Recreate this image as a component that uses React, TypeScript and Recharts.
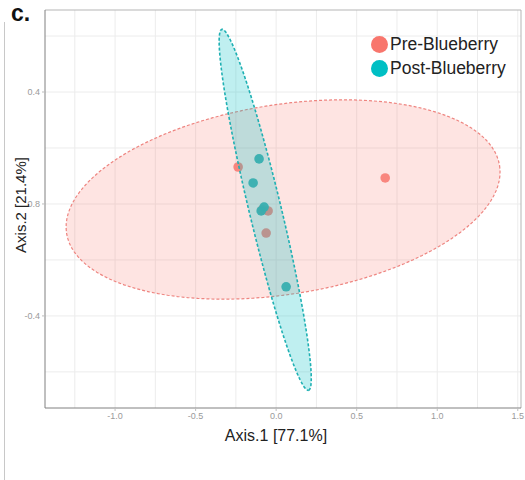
import React from 'react';
import {
  ScatterChart,
  Scatter,
  XAxis,
  YAxis,
  ReferenceLine,
} from 'recharts';

// PCoA scores
const preX = [-0.236, 0.677, -0.05, -0.062, -0.087];
const preY = [0.132, 0.093, -0.025, -0.104, -0.021];
const postX = [-0.106, -0.143, -0.075, -0.093, 0.062];
const postY = [0.161, 0.075, -0.011, -0.025, -0.296];

const seriesNames = ['Pre-Blueberry', 'Post-Blueberry'];
const seriesColors = ['#F8766D', '#00BFC4'];

// confidence ellipses: centre, semi-axis vectors (data units)
const preEllipse = [0.043, 0.016, 1.344, 0.121, 0.091, -0.335];
const postEllipse = [-0.068, -0.021, 0.269, -0.645, 0.097, 0.013];

const xTicks = [-1, -0.5, 0, 0.5, 1, 1.5];
const xGrid = [-1.25, -1, -0.75, -0.5, -0.25, 0, 0.25, 0.5, 0.75, 1, 1.25, 1.5];
const yTicks = [-0.4, 0, 0.4];
const yTickLabels = ['-0.4', '0.8', '0.4'];
const yGrid = [-0.6, -0.4, -0.2, 0, 0.2, 0.4, 0.6];

const xDomain = [-1.435, 1.52];
const yDomain = [-0.729, 0.693];

const toPoints = (xs: number[], ys: number[]) => xs.map((x, i) => ({ x, y: ys[i] }));

const ellipseOutline = (e: number[], n = 120) => {
  const [cx, cy, ux, uy, vx, vy] = e;
  const pts = [];
  for (let i = 0; i <= n; i++) {
    const t = (i / n) * Math.PI * 2;
    pts.push({ x: cx + Math.cos(t) * ux + Math.sin(t) * vx, y: cy + Math.cos(t) * uy + Math.sin(t) * vy });
  }
  return pts;
};

const font = '"Liberation Sans", Arial, sans-serif';

const dot = (color: string, opacity: number) => (props: any) => (
  <circle cx={props.cx} cy={props.cy} r={4.8} fill={color} fillOpacity={opacity} />
);

const noDot = () => <g />;

const LegendBox = () => (
  <div style={{ position: 'absolute', left: 371, top: 32, fontFamily: font, fontSize: 17.5, color: '#222' }}>
    {seriesNames.map((name, i) => (
      <div key={name} style={{ display: 'flex', alignItems: 'center', height: 24 }}>
        <span
          style={{
            width: 17,
            height: 17,
            borderRadius: '50%',
            background: seriesColors[i],
            display: 'inline-block',
            marginRight: 2,
          }}
        />
        {name}
      </div>
    ))}
  </div>
);

export default function App() {
  return (
    <div style={{ position: 'absolute', left: 0, top: 0, width: 525, height: 480, background: '#fff' }}>
      <div style={{ position: 'absolute', left: 4, top: 22, width: 1, height: 458, background: '#c8c8c8' }} />
      <div
        style={{
          position: 'absolute',
          left: 11,
          top: 0,
          fontFamily: font,
          fontWeight: 'bold',
          fontSize: 23,
          color: '#111',
        }}
      >
        c.
      </div>
      <ScatterChart width={525} height={480} margin={{ top: 10, right: 4, bottom: 42, left: 5 }}>
        {xGrid.map((v) => (
          <ReferenceLine key={'gx' + v} x={v} stroke="#ececec" strokeWidth={1} />
        ))}
        {yGrid.map((v) => (
          <ReferenceLine key={'gy' + v} y={v} stroke="#ececec" strokeWidth={1} />
        ))}
        <ReferenceLine y={yDomain[1]} stroke="#b5b5b5" />
        <ReferenceLine x={xDomain[1]} stroke="#b5b5b5" />
        <XAxis
          type="number"
          dataKey="x"
          domain={xDomain}
          allowDataOverflow
          ticks={xTicks}
          tickFormatter={(v) => Number(v).toFixed(1)}
          height={30}
          tick={{ fill: '#9a9a9a', fontSize: 9, fontFamily: font }}
          axisLine={{ stroke: '#808080' }}
          tickLine={{ stroke: '#bdbdbd' }}
          tickSize={3}
          interval={0}
        />
        <YAxis
          type="number"
          dataKey="y"
          domain={yDomain}
          allowDataOverflow
          ticks={yTicks}
          tickFormatter={(v) => yTickLabels[yTicks.indexOf(Number(v))] ?? ''}
          width={40}
          tick={{ fill: '#9a9a9a', fontSize: 9, fontFamily: font }}
          axisLine={{ stroke: '#808080' }}
          tickLine={{ stroke: '#bdbdbd' }}
          tickSize={3}
          interval={0}
        />
        <Scatter
          name={seriesNames[0]}
          data={toPoints(preX, preY)}
          shape={dot(seriesColors[0], 0.85)}
          isAnimationActive={false}
        />
        <Scatter
          name={seriesNames[1]}
          data={toPoints(postX, postY)}
          shape={dot('#1fb5b8', 0.95)}
          isAnimationActive={false}
        />
        <Scatter
          name="pre-ellipse"
          legendType="none"
          data={ellipseOutline(preEllipse)}
          shape={noDot}
          line={{ stroke: '#ee8580', strokeWidth: 1.2, strokeDasharray: '3 2', fill: '#F8766D', fillOpacity: 0.2 }}
          lineJointType="linear"
          isAnimationActive={false}
        />
        <Scatter
          name="post-ellipse"
          legendType="none"
          data={ellipseOutline(postEllipse)}
          shape={noDot}
          line={{ stroke: '#1fb0b3', strokeWidth: 1.6, strokeDasharray: '3 2', fill: '#00BFC4', fillOpacity: 0.25 }}
          lineJointType="linear"
          isAnimationActive={false}
        />
      </ScatterChart>
      <LegendBox />
      <div
        style={{
          position: 'absolute',
          left: 176,
          top: 427,
          width: 200,
          textAlign: 'center',
          fontFamily: font,
          fontSize: 16,
          color: '#222',
        }}
      >
        Axis.1 [77.1%]
      </div>
      <div
        style={{
          position: 'absolute',
          left: 20,
          top: 205,
          transform: 'translate(-50%, -50%) rotate(-90deg)',
          whiteSpace: 'nowrap',
          fontFamily: font,
          fontSize: 15,
          color: '#222',
        }}
      >
        Axis.2 [21.4%]
      </div>
    </div>
  );
}
